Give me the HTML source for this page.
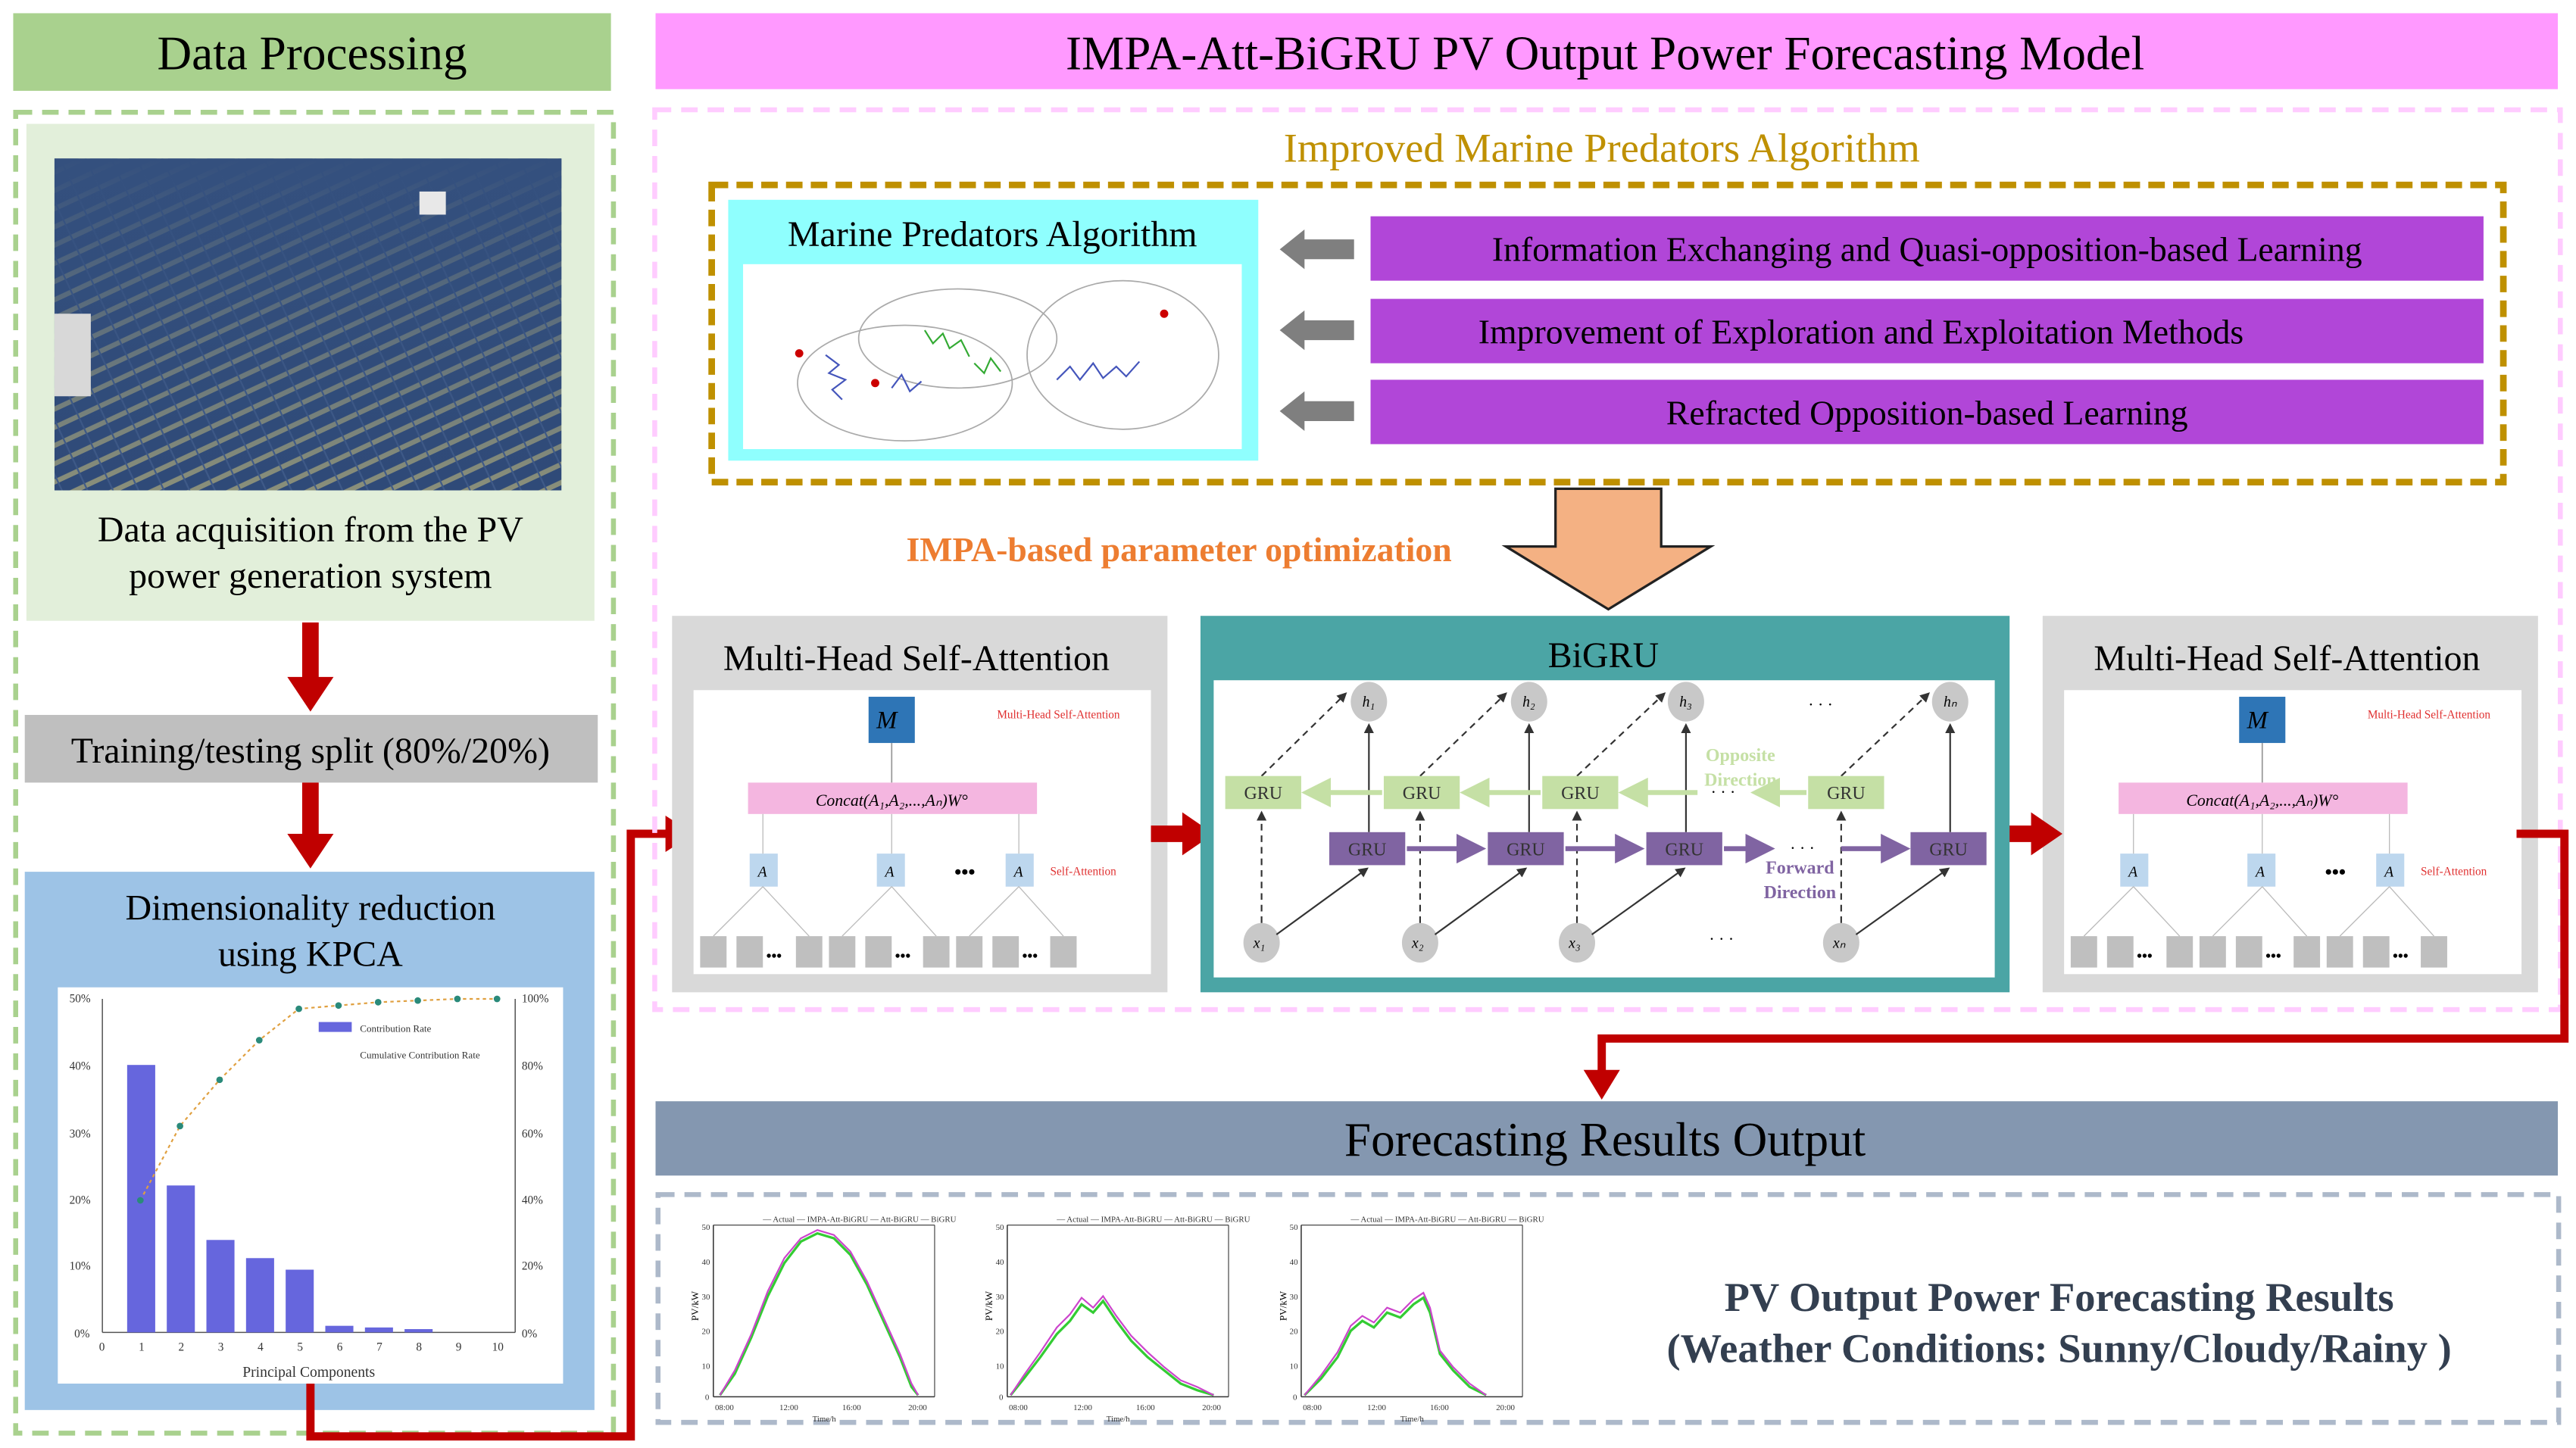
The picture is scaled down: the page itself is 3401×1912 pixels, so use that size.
<!DOCTYPE html>
<html><head><meta charset="utf-8"><style>
html,body{margin:0;padding:0;background:#fff;}
svg{display:block;}
text{font-family:"Liberation Serif",serif;}
</style></head><body>
<svg width="3401" height="1912" viewBox="0 0 1560 877" xmlns="http://www.w3.org/2000/svg">
<defs>
<pattern id="pv" width="14" height="10" patternUnits="userSpaceOnUse" patternTransform="rotate(-25)">
<rect width="14" height="10" fill="#2f4a78"/>
<rect y="7" width="14" height="3" fill="#8a8f7a"/>
<rect x="6" width="1" height="10" fill="#3f5a88"/>
</pattern>
<linearGradient id="sky" x1="0" y1="0" x2="0" y2="1">
<stop offset="0" stop-color="#34507e"/><stop offset="0.4" stop-color="#34507e" stop-opacity="0.6"/><stop offset="1" stop-color="#34507e" stop-opacity="0"/>
</linearGradient>
<marker id="ah" markerWidth="6" markerHeight="6" refX="5" refY="3" orient="auto"><path d="M0,0 L6,3 L0,6 z" fill="#333"/></marker>
<marker id="ahp" markerWidth="6" markerHeight="6" refX="5" refY="3" orient="auto"><path d="M0,0 L6,3 L0,6 z" fill="#8064a2"/></marker>
<marker id="ahg" markerWidth="6" markerHeight="6" refX="5" refY="3" orient="auto"><path d="M0,0 L6,3 L0,6 z" fill="#c5e0a5"/></marker>
</defs>

<!-- LEFT COLUMN -->
<rect x="8" y="8" width="362" height="47" fill="#a9d18e"/>
<text x="189" y="42" font-size="29" text-anchor="middle">Data Processing</text>
<rect x="9.5" y="68" width="362" height="800" fill="none" stroke="#a9d18e" stroke-width="3" stroke-dasharray="10,6"/>
<rect x="16" y="75" width="344" height="301" fill="#e2efda"/>
<rect x="33" y="96" width="307" height="201" fill="url(#pv)"/>
<rect x="33" y="96" width="307" height="201" fill="url(#sky)"/>
<rect x="33" y="190" width="22" height="50" fill="#d8d8d8"/>
<rect x="254" y="116" width="16" height="14" fill="#e8e8e8"/>
<text x="188" y="328" font-size="22" text-anchor="middle">Data acquisition from the PV</text>
<text x="188" y="356" font-size="22" text-anchor="middle">power generation system</text>

<rect x="183" y="377" width="10" height="34" fill="#c00000"/>
<path d="M174,410 L202,410 L188,431 z" fill="#c00000"/>
<rect x="15" y="433" width="347" height="41" fill="#bfbfbf"/>
<text x="188" y="462" font-size="22" text-anchor="middle">Training/testing split (80%/20%)</text>
<rect x="183" y="474" width="10" height="32" fill="#c00000"/>
<path d="M174,505 L202,505 L188,526 z" fill="#c00000"/>

<rect x="15" y="528" width="345" height="326" fill="#9dc3e6"/>
<text x="188" y="557" font-size="22" text-anchor="middle">Dimensionality reduction</text>
<text x="188" y="585" font-size="22" text-anchor="middle">using KPCA</text>
<rect x="35" y="598" width="306" height="240" fill="#fff"/>
<g font-size="7" fill="#333">
<line x1="62" y1="605" x2="62" y2="807" stroke="#555" stroke-width="0.7"/>
<line x1="62" y1="807" x2="312" y2="807" stroke="#555" stroke-width="0.7"/>
<line x1="312" y1="605" x2="312" y2="807" stroke="#555" stroke-width="0.7"/>
<text x="42" y="607">50%</text><text x="42" y="648">40%</text><text x="42" y="689">30%</text><text x="42" y="729">20%</text><text x="42" y="769">10%</text><text x="45" y="810">0%</text>
<text x="316" y="607">100%</text><text x="316" y="648">80%</text><text x="316" y="689">60%</text><text x="316" y="729">40%</text><text x="316" y="769">20%</text><text x="316" y="810">0%</text>
<rect x="77" y="645" width="17" height="162" fill="#6666dd"/>
<rect x="101" y="718" width="17" height="89" fill="#6666dd"/>
<rect x="125" y="751" width="17" height="56" fill="#6666dd"/>
<rect x="149" y="762" width="17" height="45" fill="#6666dd"/>
<rect x="173" y="769" width="17" height="38" fill="#6666dd"/>
<rect x="197" y="803" width="17" height="4" fill="#6666dd"/>
<rect x="221" y="804" width="17" height="3" fill="#6666dd"/>
<rect x="245" y="805" width="17" height="2" fill="#6666dd"/>
<polyline points="85,727 109,682 133,654 157,630 181,611 205,609 229,607 253,606 277,605 301,605" fill="none" stroke="#e0a040" stroke-width="1" stroke-dasharray="2,2"/>
<g fill="#2a8a7a"><circle cx="85" cy="727" r="2"/><circle cx="109" cy="682" r="2"/><circle cx="133" cy="654" r="2"/><circle cx="157" cy="630" r="2"/><circle cx="181" cy="611" r="2"/><circle cx="205" cy="609" r="2"/><circle cx="229" cy="607" r="2"/><circle cx="253" cy="606" r="2"/><circle cx="277" cy="605" r="2"/><circle cx="301" cy="605" r="2"/></g>
<rect x="193" y="619" width="20" height="6" fill="#6666dd"/><text x="218" y="625" font-size="6">Contribution Rate</text>
<text x="218" y="641" font-size="6">Cumulative Contribution Rate</text>
<text x="60" y="818">0</text><text x="84" y="818">1</text><text x="108" y="818">2</text><text x="132" y="818">3</text><text x="156" y="818">4</text><text x="180" y="818">5</text><text x="204" y="818">6</text><text x="228" y="818">7</text><text x="252" y="818">8</text><text x="276" y="818">9</text><text x="298" y="818">10</text>
<text x="187" y="834" font-size="9" text-anchor="middle">Principal Components</text>
</g>

<!-- red connector left -> MHSA -->
<polyline points="188,838 188,870 382,870 382,505 405,505" fill="none" stroke="#c00000" stroke-width="5"/>
<path d="M403,494 L420,505 L403,516 z" fill="#c00000"/>

<!-- RIGHT HEADER -->
<rect x="397" y="8" width="1152" height="46" fill="#ff99ff"/>
<text x="972" y="42" font-size="29" text-anchor="middle">IMPA-Att-BiGRU PV Output Power Forecasting Model</text>
<rect x="396.5" y="66.5" width="1154" height="545" fill="none" stroke="#ffccff" stroke-width="3" stroke-dasharray="10,6"/>
<text x="970" y="98" font-size="25" fill="#bf9000" text-anchor="middle">Improved Marine Predators Algorithm</text>
<rect x="431" y="112" width="1085" height="180" fill="none" stroke="#bf9000" stroke-width="4" stroke-dasharray="10,5"/>
<rect x="441" y="121" width="321" height="158" fill="#8ffffe"/>
<text x="601" y="149" font-size="22" text-anchor="middle">Marine Predators Algorithm</text>
<rect x="450" y="160" width="302" height="112" fill="#fff"/>
<ellipse cx="548" cy="232" rx="65" ry="35" fill="none" stroke="#aaa" stroke-width="0.8"/>
<ellipse cx="580" cy="205" rx="60" ry="30" fill="none" stroke="#aaa" stroke-width="0.8"/>
<ellipse cx="680" cy="215" rx="58" ry="45" fill="none" stroke="#aaa" stroke-width="0.8"/>
<path d="M500,215 l8,6 l-6,5 l10,4 l-8,6 l6,6 M540,235 l6,-8 l5,10 l7,-6" stroke="#4455bb" stroke-width="1" fill="none"/>
<path d="M560,200 l5,8 l6,-6 l4,9 l7,-5 l5,10 M590,220 l6,6 l4,-9 l6,8" stroke="#33aa33" stroke-width="1" fill="none"/>
<path d="M640,230 l8,-8 l6,8 l8,-10 l6,9 l8,-7 l6,6 l8,-9" stroke="#4455bb" stroke-width="1" fill="none"/>
<circle cx="484" cy="214" r="2.5" fill="#c00"/><circle cx="530" cy="232" r="2.5" fill="#c00"/><circle cx="705" cy="190" r="2.5" fill="#c00"/>

<g fill="#7f7f7f">
<path d="M775,151 L790,139 L790,145 L820,145 L820,157 L790,157 L790,163 z"/>
<path d="M775,200 L790,188 L790,194 L820,194 L820,206 L790,206 L790,212 z"/>
<path d="M775,249 L790,237 L790,243 L820,243 L820,255 L790,255 L790,261 z"/>
</g>
<g fill="#b146d8">
<rect x="830" y="131" width="674" height="39"/>
<rect x="830" y="181" width="674" height="39"/>
<rect x="830" y="230" width="674" height="39"/>
</g>
<text x="1167" y="158" font-size="21" text-anchor="middle">Information Exchanging and Quasi-opposition-based Learning</text>
<text x="1127" y="208" font-size="21" text-anchor="middle">Improvement of Exploration and Exploitation Methods</text>
<text x="1167" y="257" font-size="21" text-anchor="middle">Refracted Opposition-based Learning</text>

<!-- big orange arrow -->
<path d="M942,296 L1006,296 L1006,331 L1036,331 L974,369 L912,331 L942,331 z" fill="#f4b183" stroke="#222" stroke-width="1.5"/>
<text x="714" y="340" font-size="21" font-weight="bold" fill="#ed7d31" text-anchor="middle">IMPA-based parameter optimization</text>

<!-- MHSA left -->
<g id="mh">
<rect x="407" y="373" width="300" height="228" fill="#d9d9d9"/>
<text x="555" y="406" font-size="22" text-anchor="middle">Multi-Head Self-Attention</text>
<rect x="420" y="418" width="277" height="172" fill="#fff"/>
<rect x="526" y="422" width="28" height="28" fill="#2e75b6"/>
<text x="537" y="441" font-size="15" font-style="italic" text-anchor="middle">M</text>
<text x="641" y="435" font-size="7" fill="#e03030" text-anchor="middle">Multi-Head Self-Attention</text>
<line x1="540" y1="450" x2="540" y2="474" stroke="#999" stroke-width="0.8"/>
<rect x="453" y="474" width="175" height="19" fill="#f4b6e0"/>
<text x="540" y="488" font-size="10" font-style="italic" text-anchor="middle">Concat(A₁,A₂,...,Aₙ)W°</text>
<g fill="#bdd7ee"><rect x="454" y="517" width="17" height="20"/><rect x="531" y="517" width="17" height="20"/><rect x="609" y="517" width="17" height="20"/></g>
<g font-size="9" font-style="italic"><text x="459" y="531">A</text><text x="536" y="531">A</text><text x="614" y="531">A</text></g>
<text x="578" y="532" font-size="12" font-weight="bold">•••</text>
<text x="636" y="530" font-size="7" fill="#e03030">Self-Attention</text>
<g stroke="#bbb" stroke-width="0.6"><line x1="462" y1="493" x2="462" y2="517"/><line x1="540" y1="493" x2="540" y2="517"/><line x1="617" y1="493" x2="617" y2="517"/>
<line x1="462" y1="537" x2="432" y2="567"/><line x1="462" y1="537" x2="490" y2="567"/><line x1="540" y1="537" x2="510" y2="567"/><line x1="540" y1="537" x2="567" y2="567"/><line x1="617" y1="537" x2="587" y2="567"/><line x1="617" y1="537" x2="644" y2="567"/></g>
<g fill="#bfbfbf"><rect x="424" y="567" width="16" height="19"/><rect x="446" y="567" width="16" height="19"/><rect x="482" y="567" width="16" height="19"/><rect x="502" y="567" width="16" height="19"/><rect x="524" y="567" width="16" height="19"/><rect x="559" y="567" width="16" height="19"/><rect x="579" y="567" width="16" height="19"/><rect x="601" y="567" width="16" height="19"/><rect x="636" y="567" width="16" height="19"/></g>
<g font-size="9" font-weight="bold"><text x="464" y="582">•••</text><text x="542" y="582">•••</text><text x="619" y="582">•••</text></g>
</g>
<use href="#mh" transform="translate(830,0)"/>

<!-- red arrows -->
<rect x="697" y="500" width="22" height="10" fill="#c00000"/><path d="M716,492 L735,505 L716,518 z" fill="#c00000"/>
<rect x="1208" y="500" width="25" height="10" fill="#c00000"/><path d="M1230,492 L1249,505 L1230,518 z" fill="#c00000"/>
<polyline points="1524,505 1553,505 1553,629 970,629 970,650" fill="none" stroke="#c00000" stroke-width="5"/>
<path d="M959,648 L981,648 L970,666 z" fill="#c00000"/>

<!-- BiGRU -->
<rect x="727" y="373" width="490" height="228" fill="#4ba5a5"/>
<text x="971" y="404" font-size="22" text-anchor="middle">BiGRU</text>
<rect x="735" y="412" width="473" height="180" fill="#fff"/>
<g fill="#c8c8c8">
<ellipse cx="829" cy="425" rx="11" ry="12"/><ellipse cx="926" cy="425" rx="11" ry="12"/><ellipse cx="1021" cy="425" rx="11" ry="12"/><ellipse cx="1181" cy="425" rx="11" ry="12"/>
<ellipse cx="764" cy="571" rx="11" ry="12"/><ellipse cx="860" cy="571" rx="11" ry="12"/><ellipse cx="955" cy="571" rx="11" ry="12"/><ellipse cx="1115" cy="571" rx="11" ry="12"/>
</g>
<g font-size="9" font-style="italic"><text x="825" y="428">h₁</text><text x="922" y="428">h₂</text><text x="1017" y="428">h₃</text><text x="1177" y="428">hₙ</text>
<text x="759" y="574">x₁</text><text x="855" y="574">x₂</text><text x="950" y="574">x₃</text><text x="1110" y="574">xₙ</text></g>
<text x="1095" y="430" font-size="10">· · ·</text><text x="1035" y="572" font-size="10">· · ·</text>
<g stroke="#333" stroke-width="1" fill="none">
<line x1="764" y1="559" x2="764" y2="492" stroke-dasharray="4,3" marker-end="url(#ah)"/>
<line x1="860" y1="559" x2="860" y2="492" stroke-dasharray="4,3" marker-end="url(#ah)"/>
<line x1="955" y1="559" x2="955" y2="492" stroke-dasharray="4,3" marker-end="url(#ah)"/>
<line x1="1115" y1="559" x2="1115" y2="492" stroke-dasharray="4,3" marker-end="url(#ah)"/>
<line x1="773" y1="566" x2="828" y2="526" marker-end="url(#ah)"/>
<line x1="869" y1="566" x2="924" y2="526" marker-end="url(#ah)"/>
<line x1="964" y1="566" x2="1020" y2="526" marker-end="url(#ah)"/>
<line x1="1124" y1="566" x2="1180" y2="526" marker-end="url(#ah)"/>
<line x1="829" y1="504" x2="829" y2="439" marker-end="url(#ah)"/>
<line x1="926" y1="504" x2="926" y2="439" marker-end="url(#ah)"/>
<line x1="1021" y1="504" x2="1021" y2="439" marker-end="url(#ah)"/>
<line x1="1181" y1="504" x2="1181" y2="439" marker-end="url(#ah)"/>
<line x1="764" y1="470" x2="815" y2="420" stroke-dasharray="4,3" marker-end="url(#ah)"/>
<line x1="860" y1="470" x2="912" y2="420" stroke-dasharray="4,3" marker-end="url(#ah)"/>
<line x1="955" y1="470" x2="1008" y2="420" stroke-dasharray="4,3" marker-end="url(#ah)"/>
<line x1="1115" y1="470" x2="1168" y2="420" stroke-dasharray="4,3" marker-end="url(#ah)"/>
</g>
<g stroke="#c5e0a5" stroke-width="3"><line x1="837" y1="480" x2="791" y2="480" marker-end="url(#ahg)"/><line x1="933" y1="480" x2="887" y2="480" marker-end="url(#ahg)"/><line x1="1028" y1="480" x2="983" y2="480" marker-end="url(#ahg)"/><line x1="1094" y1="480" x2="1063" y2="480" marker-end="url(#ahg)"/></g>
<g stroke="#8064a2" stroke-width="3"><line x1="852" y1="514" x2="897" y2="514" marker-end="url(#ahp)"/><line x1="948" y1="514" x2="993" y2="514" marker-end="url(#ahp)"/><line x1="1044" y1="514" x2="1072" y2="514" marker-end="url(#ahp)"/><line x1="1115" y1="514" x2="1154" y2="514" marker-end="url(#ahp)"/></g>
<text x="1036" y="483" font-size="10">· · ·</text><text x="1084" y="517" font-size="10">· · ·</text>
<g fill="#c5e0a5"><rect x="742" y="470" width="46" height="20"/><rect x="838" y="470" width="46" height="20"/><rect x="934" y="470" width="46" height="20"/><rect x="1095" y="470" width="46" height="20"/></g>
<g fill="#8064a2"><rect x="805" y="504" width="46" height="20"/><rect x="901" y="504" width="46" height="20"/><rect x="997" y="504" width="46" height="20"/><rect x="1157" y="504" width="46" height="20"/></g>
<g font-size="11" text-anchor="middle" fill="#333"><text x="765" y="484">GRU</text><text x="861" y="484">GRU</text><text x="957" y="484">GRU</text><text x="1118" y="484">GRU</text>
<text x="828" y="518">GRU</text><text x="924" y="518">GRU</text><text x="1020" y="518">GRU</text><text x="1180" y="518">GRU</text></g>
<g font-size="11" font-weight="bold" text-anchor="middle"><text x="1054" y="461" fill="#c5e0a5">Opposite</text><text x="1054" y="476" fill="#c5e0a5">Direction</text>
<text x="1090" y="529" fill="#8064a2">Forward</text><text x="1090" y="544" fill="#8064a2">Direction</text></g>

<!-- Forecasting results -->
<rect x="397" y="667" width="1152" height="45" fill="#8497b0"/>
<text x="972" y="700" font-size="29" text-anchor="middle">Forecasting Results Output</text>
<rect x="398.5" y="723.5" width="1151" height="138" fill="none" stroke="#adb9ca" stroke-width="3" stroke-dasharray="10,6"/>
<g id="ch">
<line x1="432" y1="742" x2="432" y2="846" stroke="#333" stroke-width="0.7"/>
<line x1="432" y1="846" x2="566" y2="846" stroke="#333" stroke-width="0.7"/>
<line x1="432" y1="742" x2="566" y2="742" stroke="#333" stroke-width="0.5"/>
<line x1="566" y1="742" x2="566" y2="846" stroke="#333" stroke-width="0.5"/>
<g font-size="5" fill="#333"><text x="425" y="745">50</text><text x="425" y="766">40</text><text x="425" y="787">30</text><text x="425" y="808">20</text><text x="425" y="829">10</text><text x="427" y="848">0</text>
<text x="433" y="854">08:00</text><text x="472" y="854">12:00</text><text x="510" y="854">16:00</text><text x="550" y="854">20:00</text><text x="492" y="861">Time/h</text>
<text x="462" y="740">— Actual — IMPA-Att-BiGRU — Att-BiGRU — BiGRU</text></g>
<text x="423" y="800" font-size="6" transform="rotate(-90 423 800)">PV/kW</text>
</g>
<polyline points="436,845 445,832 455,810 465,785 475,765 485,752 495,747 505,750 515,760 525,778 535,800 545,822 552,840 556,845" fill="none" stroke="#33cc33" stroke-width="1.5"/>
<polyline points="436,845 445,830 455,808 465,782 475,762 485,750 495,745 505,748 515,758 525,776 535,798 545,820 552,838 556,845" fill="none" stroke="#cc44cc" stroke-width="1"/>
<use href="#ch" transform="translate(178,0)"/>
<polyline points="612,845 620,835 630,822 640,808 648,800 655,790 662,795 668,788 676,800 685,812 695,822 705,830 715,838 725,842 735,845" fill="none" stroke="#33cc33" stroke-width="1.5"/>
<polyline points="612,845 620,833 630,819 640,804 648,796 655,786 662,792 668,785 676,797 685,809 695,819 705,828 715,836 725,840 735,845" fill="none" stroke="#cc44cc" stroke-width="1"/>
<use href="#ch" transform="translate(356,0)"/>
<polyline points="790,845 800,835 810,822 818,806 825,800 832,804 840,795 848,798 856,790 862,786 866,795 872,820 880,830 890,840 900,845" fill="none" stroke="#33cc33" stroke-width="1.5"/>
<polyline points="790,845 800,833 810,819 818,803 825,797 832,801 840,792 848,795 856,787 862,783 866,792 872,818 880,828 890,838 900,845" fill="none" stroke="#cc44cc" stroke-width="1"/>
<text x="1247" y="794" font-size="25" font-weight="bold" fill="#333f50" text-anchor="middle">PV Output Power Forecasting Results</text>
<text x="1247" y="825" font-size="25" font-weight="bold" fill="#333f50" text-anchor="middle">(Weather Conditions: Sunny/Cloudy/Rainy )</text>
</svg>
</body></html>
